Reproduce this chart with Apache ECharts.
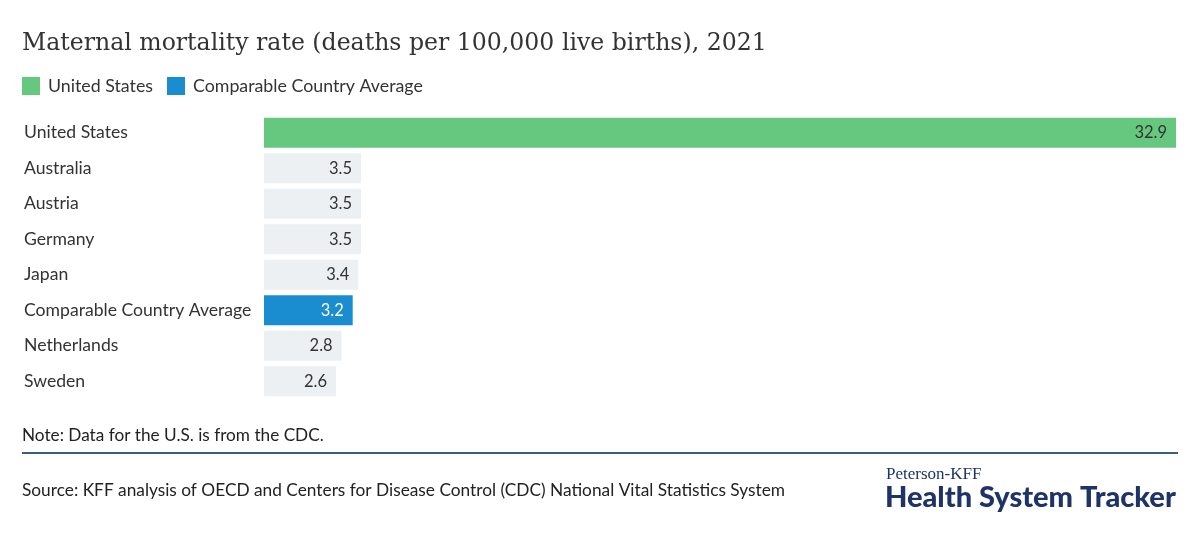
<!DOCTYPE html>
<html>
<head>
<meta charset="utf-8">
<style>html,body{margin:0;padding:0;background:#fff;}#c{width:1200px;height:551px;}</style>
<script src="https://cdn.jsdelivr.net/npm/echarts@6/dist/echarts.min.js"></script>
</head>
<body>
<div id="c"></div>
<script>
const categories = ["United States","Australia","Austria","Germany","Japan","Comparable Country Average","Netherlands","Sweden"];
const values = [32.9, 3.5, 3.5, 3.5, 3.4, 3.2, 2.8, 2.6];
const usName = "United States";
const avgName = "Comparable Country Average";

const chart = echarts.init(document.getElementById('c'));
const sans = 'Lato';
function pick(pred){ return values.map((v,i)=> pred(categories[i]) ? v : '-'); }
const labelCommon = {show:true, position:'insideRight', distance:9, fontFamily:sans, fontSize:16.5, color:'#333', formatter: p => p.value.toFixed(1)};
chart.setOption({
  animation:false,
  legend:{left:22, top:77, padding:0, itemWidth:18, itemHeight:18, itemGap:14, icon:'rect',
    textStyle:{fontFamily:sans, fontSize:17.8, color:'#333', padding:[0,0,0,3]},
    data:[usName, avgName]},
  grid:{left:264, right:24, top:115, height:284, containLabel:false},
  xAxis:{type:'value', min:0, max:32.9, show:false},
  yAxis:{type:'category', data:categories, inverse:true,
    axisLine:{show:false}, axisTick:{show:false}, splitLine:{show:false},
    axisLabel:{align:'left', margin:240, fontFamily:sans, fontSize:17.6, color:'#333'}},
  series:[
    {name:usName, type:'bar', stack:'a', barWidth:30, data:pick(c=>c===usName), itemStyle:{color:'#66C77F'}, label:labelCommon},
    {name:avgName, type:'bar', stack:'a', barWidth:30, data:pick(c=>c===avgName), itemStyle:{color:'#1A8DD0'}, label:Object.assign({}, labelCommon, {color:'#fff'})},
    {name:'Other', type:'bar', stack:'a', barWidth:30, data:pick(c=>c!==usName && c!==avgName), itemStyle:{color:'#ECF0F3'}, label:labelCommon}
  ],
  graphic:[
    {type:'text', left:22, top:32, style:{text:'Maternal mortality rate (deaths per 100,000 live births), 2021', font:'23.6px "DejaVu Serif"', fill:'#333'}},
    {type:'text', left:22, top:427, style:{text:'Note: Data for the U.S. is from the CDC.', font:'17.2px Lato', fill:'#222'}},
    {type:'rect', shape:{x:22, y:452, width:1156, height:2}, style:{fill:'#3D5A85'}},
    {type:'text', left:22, top:482, style:{text:'Source: KFF analysis of OECD and Centers for Disease Control (CDC) National Vital Statistics System', font:'17.3px Lato', fill:'#222'}},
    {type:'text', left:886, top:466, style:{text:'Peterson-KFF', font:'17px "Liberation Serif"', fill:'#1F3466'}},
    {type:'text', left:885, top:483, style:{text:'Health System Tracker', font:'900 29px Lato', fill:'#1F3466'}}
  ]
});
</script>
</body>
</html>
